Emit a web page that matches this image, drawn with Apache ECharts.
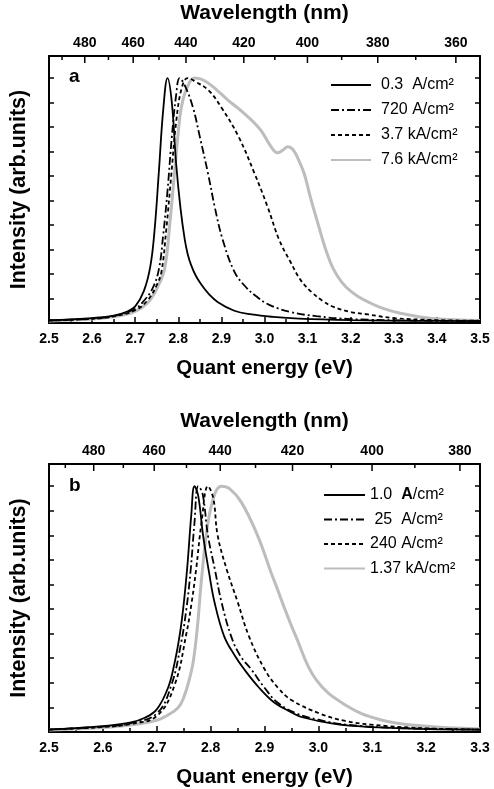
<!DOCTYPE html>
<html>
<head>
<meta charset="utf-8">
<script src="https://cdn.jsdelivr.net/npm/echarts@6/dist/echarts.min.js"></script>
<style>
html, body { margin: 0; padding: 0; background: #fff; }
#chart { width: 494px; height: 789px; }
</style>
</head>
<body>
<div id="chart"></div>
<script>
var FONT = '"Liberation Sans", Arial, sans-serif';

// panel a : spectra at 0.3 A/cm2 ... 7.6 kA/cm2
var aSolidE = [2.50, 2.55, 2.60, 2.65, 2.68, 2.70, 2.72, 2.735, 2.745, 2.755, 2.765, 2.775, 2.785, 2.795, 2.805, 2.815, 2.822, 2.83, 2.84, 2.853, 2.87, 2.892, 2.93, 2.97, 3.02, 3.08, 3.2, 3.35, 3.5];
var aSolidI = [0.012, 0.015, 0.020, 0.030, 0.046, 0.068, 0.13, 0.23, 0.38, 0.62, 0.87, 1.0, 0.90, 0.65, 0.47, 0.34, 0.28, 0.235, 0.195, 0.158, 0.12, 0.085, 0.05, 0.035, 0.025, 0.018, 0.012, 0.009, 0.008];
var aDashDotE = [2.50, 2.60, 2.65, 2.70, 2.72, 2.74, 2.755, 2.765, 2.775, 2.785, 2.795, 2.803, 2.815, 2.834, 2.85, 2.869, 2.885, 2.903, 2.93, 2.955, 2.98, 3.01, 3.06, 3.12, 3.2, 3.35, 3.5];
var aDashDotI = [0.010, 0.018, 0.028, 0.058, 0.09, 0.14, 0.22, 0.36, 0.54, 0.76, 0.93, 1.0, 0.97, 0.88, 0.76, 0.61, 0.47, 0.34, 0.21, 0.15, 0.11, 0.075, 0.045, 0.028, 0.016, 0.01, 0.008];
var aDashE = [2.50, 2.60, 2.65, 2.70, 2.73, 2.75, 2.761, 2.772, 2.784, 2.795, 2.808, 2.822, 2.84, 2.87, 2.90, 2.94, 2.977, 3.007, 3.034, 3.06, 3.084, 3.11, 3.135, 3.16, 3.2, 3.24, 3.3, 3.4, 3.5];
var aDashI = [0.010, 0.017, 0.027, 0.052, 0.095, 0.155, 0.21, 0.38, 0.61, 0.82, 0.96, 1.0, 0.985, 0.95, 0.88, 0.76, 0.61, 0.475, 0.34, 0.25, 0.175, 0.125, 0.09, 0.066, 0.045, 0.035, 0.02, 0.012, 0.009];
var aGreyE = [2.50, 2.60, 2.65, 2.70, 2.73, 2.75, 2.768, 2.78, 2.791, 2.80, 2.807, 2.82, 2.838, 2.86, 2.89, 2.915, 2.95, 2.99, 3.015, 3.03, 3.042, 3.054, 3.065, 3.078, 3.092, 3.107, 3.125, 3.142, 3.16, 3.18, 3.2, 3.22, 3.238, 3.27, 3.315, 3.39, 3.5];
var aGreyI = [0.008, 0.016, 0.026, 0.048, 0.085, 0.14, 0.22, 0.40, 0.61, 0.78, 0.88, 0.96, 1.0, 0.99, 0.95, 0.91, 0.86, 0.79, 0.72, 0.695, 0.705, 0.72, 0.71, 0.67, 0.61, 0.51, 0.40, 0.30, 0.22, 0.165, 0.13, 0.105, 0.088, 0.063, 0.04, 0.018, 0.01];

// panel b : spectra at 1.0 A/cm2 ... 1.37 kA/cm2
var bSolidE = [2.50, 2.55, 2.60, 2.65, 2.678, 2.70, 2.721, 2.733, 2.743, 2.75, 2.757, 2.764, 2.770, 2.777, 2.786, 2.797, 2.807, 2.825, 2.845, 2.862, 2.89, 2.918, 2.95, 2.97, 3.03, 3.1, 3.2, 3.3];
var bSolidI = [0.010, 0.016, 0.024, 0.038, 0.058, 0.092, 0.18, 0.28, 0.40, 0.52, 0.68, 0.88, 1.0, 0.96, 0.80, 0.65, 0.53, 0.39, 0.31, 0.256, 0.18, 0.12, 0.08, 0.06, 0.033, 0.02, 0.012, 0.01];
var bDashDotE = [2.50, 2.60, 2.65, 2.70, 2.727, 2.745, 2.755, 2.763, 2.77, 2.777, 2.785, 2.795, 2.808, 2.82, 2.838, 2.855, 2.875, 2.90, 2.924, 2.96, 3.0, 3.05, 3.15, 3.3];
var bDashDotI = [0.010, 0.022, 0.035, 0.075, 0.19, 0.36, 0.50, 0.66, 0.85, 1.0, 0.97, 0.80, 0.66, 0.53, 0.39, 0.31, 0.256, 0.18, 0.12, 0.075, 0.05, 0.03, 0.016, 0.01];
var bDashE = [2.50, 2.60, 2.65, 2.70, 2.733, 2.755, 2.765, 2.773, 2.783, 2.795, 2.805, 2.813, 2.83, 2.85, 2.871, 2.90, 2.925, 2.95, 3.005, 3.05, 3.097, 3.2, 3.3];
var bDashI = [0.010, 0.02, 0.032, 0.065, 0.19, 0.40, 0.53, 0.66, 0.85, 1.0, 0.95, 0.80, 0.66, 0.53, 0.39, 0.256, 0.18, 0.13, 0.073, 0.045, 0.03, 0.015, 0.01];
var bGreyE = [2.50, 2.60, 2.65, 2.70, 2.72, 2.74, 2.75, 2.76, 2.768, 2.776, 2.783, 2.795, 2.808, 2.82, 2.835, 2.857, 2.887, 2.912, 2.925, 2.936, 2.958, 2.995, 3.05, 3.115, 3.19, 3.3];
var bGreyI = [0.008, 0.018, 0.028, 0.048, 0.068, 0.10, 0.14, 0.21, 0.29, 0.44, 0.62, 0.85, 0.97, 1.0, 0.99, 0.935, 0.80, 0.65, 0.575, 0.51, 0.39, 0.215, 0.11, 0.05, 0.025, 0.012];

var aNames = ['0.3 A/cm²', '720 A/cm²', '3.7 kA/cm²', '7.6 kA/cm²'];
var bNames = ['1.0 A/cm²', '25 A/cm²', '240 A/cm²', '1.37 kA/cm²'];
var aLegendText = ['0.3  A/cm²', '720 A/cm²', '3.7 kA/cm²', '7.6 kA/cm²'];
var bLegendText = ['1.0  {b|A}/cm²', ' 25  A/cm²', '240 A/cm²', '1.37 kA/cm²'];

// top axis (wavelength, nm)
var aWaveMajor = [480, 460, 440, 420, 400, 380, 360];
var aWaveMinor = [490, 470, 450, 430, 410, 390, 370];
var bWaveMajor = [480, 460, 440, 420, 400, 380];
var bWaveMinor = [490, 470, 450, 430, 410, 390];

var HC = 1239.84; // eV*nm

function pairs(xs, ys) {
  return xs.map(function (x, i) { return [x, ys[i]]; });
}

function waveData(major, minor) {
  var d = [];
  major.forEach(function (w) { d.push([HC / w, 0, w, 1]); });
  minor.forEach(function (w) { d.push([HC / w, 0, w, 0]); });
  return d;
}

var styles = [
  { color: '#000', width: 1.8, type: 'solid' },
  { color: '#000', width: 1.8, type: [8, 3, 2, 3] },
  { color: '#000', width: 1.8, type: [4, 3] },
  { color: '#bdbdbd', width: 3, type: 'solid' }
];

function line(name, xs, ys, k, gi) {
  var s = styles[k];
  return {
    name: name,
    type: 'line',
    xAxisIndex: gi * 2,
    yAxisIndex: gi * 2,
    data: pairs(xs, ys),
    smooth: 0.4,
    symbol: 'none',
    z: k === 3 ? 2 : 3,
    lineStyle: { color: s.color, width: s.width, type: s.type },
    itemStyle: { color: s.color }
  };
}

function waveTicks(params, api) {
  var x = api.coord([api.value(0), 0])[0];
  var top = params.coordSys.y;
  var major = api.value(3) === 1;
  var children = [{
    type: 'line',
    shape: { x1: x, y1: top, x2: x, y2: top + (major ? 7 : 4) },
    style: { stroke: '#000', lineWidth: 1.5 }
  }];
  if (major) {
    children.push({
      type: 'text',
      style: {
        text: String(api.value(2)),
        x: x, y: top - 6,
        align: 'center', verticalAlign: 'bottom',
        font: 'bold 14px ' + FONT,
        fill: '#000'
      }
    });
  }
  return { type: 'group', children: children };
}

function energyAxis(gi, max) {
  return {
    type: 'value', gridIndex: gi, position: 'bottom',
    min: 2.5, max: max, interval: 0.1,
    name: 'Quant energy (eV)', nameLocation: 'middle', nameGap: 35,
    nameTextStyle: { fontSize: 20.5, fontWeight: 'bold', color: '#000', fontFamily: FONT },
    axisLine: { show: true, onZero: false, lineStyle: { color: '#000', width: 2 } },
    axisTick: { show: true, inside: true, length: 6, lineStyle: { color: '#000', width: 1.5 } },
    minorTick: { show: true, splitNumber: 2, length: 4, lineStyle: { color: '#000', width: 1.5 } },
    axisLabel: {
      margin: 9, fontSize: 14, fontWeight: 'bold', color: '#000', fontFamily: FONT,
      formatter: function (v) { return v.toFixed(1); }
    },
    splitLine: { show: false }
  };
}

function waveAxis(gi, max) {
  return {
    type: 'value', gridIndex: gi, position: 'top',
    min: 2.5, max: max,
    name: 'Wavelength (nm)', nameLocation: 'middle', nameGap: 32,
    nameTextStyle: { fontSize: 21, fontWeight: 'bold', color: '#000', fontFamily: FONT },
    axisLine: { show: true, onZero: false, lineStyle: { color: '#000', width: 2 } },
    axisTick: { show: false },
    axisLabel: { show: false },
    splitLine: { show: false }
  };
}

function intensityAxis(gi, right) {
  return {
    type: 'value', gridIndex: gi, position: right ? 'right' : 'left',
    min: 0, max: 1.09, interval: 0.1,
    name: right ? '' : 'Intensity (arb.units)', nameLocation: 'middle', nameGap: 19,
    nameTextStyle: { fontSize: 21.5, fontWeight: 'bold', color: '#000', fontFamily: FONT },
    axisLine: { show: true, onZero: false, lineStyle: { color: '#000', width: 2 } },
    axisTick: { show: true, inside: true, length: 5, lineStyle: { color: '#000', width: 1.5 } },
    axisLabel: { show: false },
    splitLine: { show: false }
  };
}

function legend(names, texts, left, top, gap, iconW, textPad) {
  return {
    data: names,
    orient: 'vertical',
    left: left, top: top,
    itemWidth: iconW, itemHeight: 14, itemGap: gap,
    selectedMode: false,
    itemStyle: { opacity: 0 },
    formatter: function (n) { return texts[names.indexOf(n)]; },
    textStyle: {
      fontSize: 16, color: '#000', fontFamily: FONT, padding: [0, 0, 0, textPad],
      rich: { b: { fontSize: 16, fontWeight: 'bold', color: '#000', fontFamily: FONT } }
    }
  };
}

var chart = echarts.init(document.getElementById('chart'), null, { renderer: 'canvas' });

chart.setOption({
  animation: false,
  backgroundColor: '#fff',
  grid: [
    { left: 47, top: 56, width: 433, height: 267 },
    { left: 47, top: 464, width: 433, height: 269 }
  ],
  xAxis: [energyAxis(0, 3.5), waveAxis(0, 3.5), energyAxis(1, 3.3), waveAxis(1, 3.3)],
  yAxis: [intensityAxis(0, false), intensityAxis(0, true), intensityAxis(1, false), intensityAxis(1, true)],
  legend: [
    legend(aNames, aLegendText, 325, 72, 9, 40, 5),
    legend(bNames, bLegendText, 318, 482, 8.5, 41, 0)
  ],
  graphic: [
    { type: 'text', left: 69, top: 67, style: { text: 'a', font: 'bold 19px ' + FONT, fill: '#000' } },
    { type: 'text', left: 69, top: 476, style: { text: 'b', font: 'bold 19px ' + FONT, fill: '#000' } }
  ],
  series: [
    line(aNames[3], aGreyE, aGreyI, 3, 0),
    line(aNames[0], aSolidE, aSolidI, 0, 0),
    line(aNames[1], aDashDotE, aDashDotI, 1, 0),
    line(aNames[2], aDashE, aDashI, 2, 0),
    line(bNames[3], bGreyE, bGreyI, 3, 1),
    line(bNames[0], bSolidE, bSolidI, 0, 1),
    line(bNames[1], bDashDotE, bDashDotI, 1, 1),
    line(bNames[2], bDashE, bDashI, 2, 1),
    {
      type: 'custom', xAxisIndex: 1, yAxisIndex: 0,
      encode: { x: 0, y: 1 },
      data: waveData(aWaveMajor, aWaveMinor),
      renderItem: waveTicks, silent: true, z: 5
    },
    {
      type: 'custom', xAxisIndex: 3, yAxisIndex: 2,
      encode: { x: 0, y: 1 },
      data: waveData(bWaveMajor, bWaveMinor),
      renderItem: waveTicks, silent: true, z: 5
    }
  ]
});
</script>
</body>
</html>
